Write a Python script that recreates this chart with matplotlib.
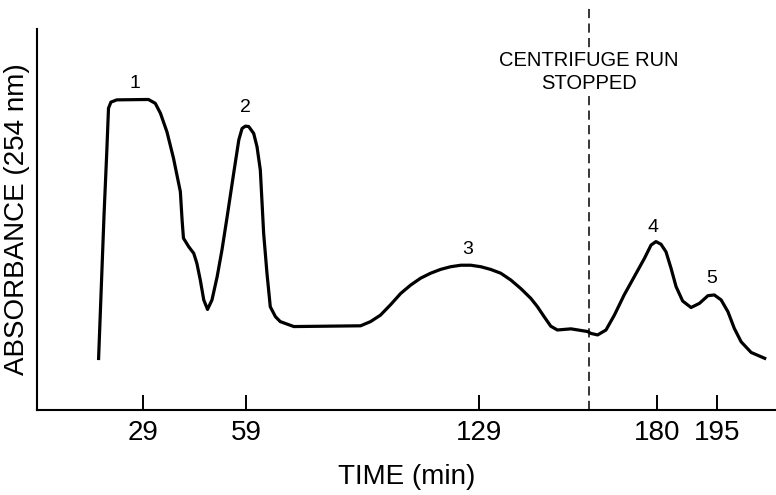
import numpy as np
import matplotlib
matplotlib.use("Agg")
import matplotlib.pyplot as plt

plt.rcParams['font.family'] = ['Liberation Sans', 'DejaVu Sans']

# elution profile (time in min, absorbance in relative units)
time_min = [16.0, 17.6, 18.4, 18.9, 19.6, 21.3, 30.5, 32.5, 34.0, 35.9, 37.8, 39.8,
            40.3, 40.7, 42.2, 43.7, 44.6, 45.6, 46.6, 47.7, 49.0, 50.5, 51.9, 53.4,
            55.3, 56.8, 57.75, 58.7, 59.7, 61.2, 62.2, 63.2, 64.2, 65.2, 66.2, 67.75,
            69.2, 73.3, 93.4, 96.4, 99.4, 102.4, 105.5, 108.5, 111.5, 114.5, 117.5,
            120.5, 123.6, 126.6, 129.6, 132.4, 135.3, 138.2, 141.0, 143.9, 145.8,
            147.7, 149.6, 151.5, 155.4, 160.1, 161.1, 163.0, 165.4, 167.8, 170.6,
            173.5, 176.4, 178.3, 179.7, 181.0, 182.25, 183.5, 184.75, 186.4, 188.5,
            190.6, 192.7, 194.3, 196.0, 197.7, 199.3, 201.0, 203.5, 207.25]
absorbance = [0.131, 0.512, 0.678, 0.792, 0.808, 0.814, 0.815, 0.805, 0.779, 0.730, 0.661, 0.573,
              0.499, 0.451, 0.429, 0.411, 0.385, 0.341, 0.289, 0.264, 0.289, 0.350, 0.420, 0.507,
              0.621, 0.709, 0.739, 0.745, 0.744, 0.726, 0.691, 0.630, 0.464, 0.359, 0.271, 0.245,
              0.232, 0.219, 0.221, 0.232, 0.249, 0.276, 0.306, 0.328, 0.346, 0.359, 0.369,
              0.376, 0.380, 0.380, 0.376, 0.369, 0.359, 0.341, 0.319, 0.293, 0.271,
              0.245, 0.220, 0.210, 0.213, 0.206, 0.201, 0.197, 0.210, 0.249, 0.302,
              0.350, 0.398, 0.433, 0.442, 0.435, 0.415, 0.372, 0.324, 0.286, 0.269,
              0.280, 0.300, 0.302, 0.289, 0.258, 0.214, 0.179, 0.151, 0.134]

tick_minutes = [29, 59, 129, 180, 195]

peak_labels = ['1', '2', '3', '4', '5']
peak_time = [26.7, 58.7, 125.6, 178.9, 193.7]
peak_abs = [0.858, 0.793, 0.420, 0.480, 0.344]

stop_time = 160.5

# the original time axis is not quite linear, so map minutes to drawn position
anchor_min = [-300, -2, 29, 59, 129, 180, 195, 210, 500]
anchor_pos = [-1000.0, 36.6, 143, 246, 478, 656, 716, 776, 1936]


def fwd(t):
    return np.interp(t, anchor_min, anchor_pos)


def inv(p):
    return np.interp(p, anchor_pos, anchor_min)


fig = plt.figure(figsize=(7.76, 4.95), dpi=100)
ax = fig.add_axes([37 / 776, 85 / 495, 739 / 776, 381 / 495])
ax.set_xscale('function', functions=(fwd, inv))

ax.plot(time_min, absorbance, color='black', lw=2.3, solid_joinstyle='round',
        solid_capstyle='butt')

for lab, t, a in zip(peak_labels, peak_time, peak_abs):
    ax.text(t, a, lab, ha='center', va='center', fontsize=14)

ax.axvline(stop_time, ymin=0, ymax=1.058, color='black', lw=1.1,
           dashes=(6, 3.5), clip_on=False)
ax.text(stop_time, 0.887, 'CENTRIFUGE RUN\nSTOPPED', ha='center', va='center',
        fontsize=14.5, linespacing=1.25,
        bbox=dict(facecolor='white', edgecolor='none', pad=1))

ax.set_xlim(-1.9, 209.7)
ax.set_ylim(0, 1)
ax.set_xticks(tick_minutes)
ax.set_xticklabels([str(v) for v in tick_minutes])
ax.minorticks_off()
ax.set_yticks([])
ax.tick_params(axis='x', direction='in', length=10.8, width=1.4, pad=7,
               labelsize=20)

for side in ['top', 'right']:
    ax.spines[side].set_visible(False)
for side in ['left', 'bottom']:
    ax.spines[side].set_linewidth(1.5)

ax.set_xlabel('TIME (min)', fontsize=20, labelpad=13)
ax.set_ylabel('ABSORBANCE (254 nm)', fontsize=20, va='center')
ax.yaxis.set_label_coords(-20 / 739, 0.5)

fig.savefig('out.png', dpi=100)
